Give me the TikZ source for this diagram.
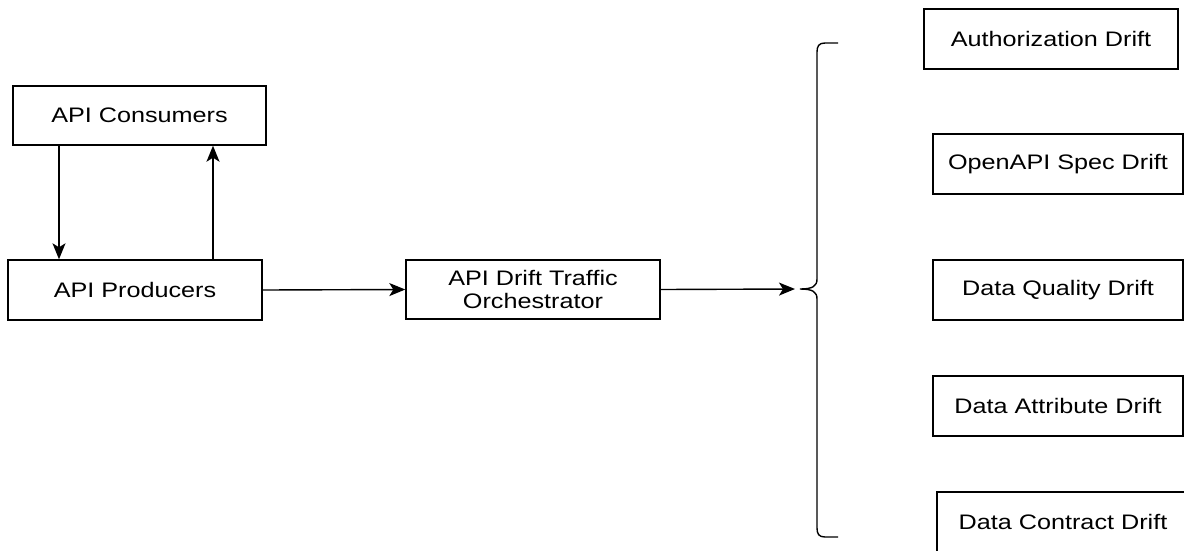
\documentclass[tikz,border=0pt]{standalone}
\usepackage{fontspec}
\usepackage{graphicx}
\setmainfont{Liberation Sans}
\usetikzlibrary{arrows.meta}
\newcommand{\wtxt}[1]{\scalebox{1.2}[1]{#1}}
\tikzset{
  box/.style={draw, line width=1.4pt, rectangle, minimum width=#1, minimum height=60pt, inner sep=0pt,
    font=\fontsize{21}{22}\selectfont, align=center},
  box/.default=254pt,
  arr/.style={line width=1.4pt, -{Stealth[length=16pt,width=13pt,inset=4pt]}},
  brace/.style={line width=1.4pt}
}
\begin{document}
\begin{tikzpicture}[x=1pt,y=-1pt]
\useasboundingbox (0,0) rectangle (1184,550);
\clip (0,0) rectangle (1184,550);
\node[box=253pt, minimum height=59pt] (cons) at (139.5,115.5) {\wtxt{API Consumers}};
\node[box] (prod) at (135,290) {\wtxt{API Producers}};
\node[box, minimum height=59pt] (orch) at (533,289.5) {\wtxt{API Drift Traffic}\\[1pt]\wtxt{Orchestrator}};
\node[box] (auth) at (1051,39) {\wtxt{Authorization Drift}};
\node[box=250pt] (spec) at (1058,164) {\wtxt{OpenAPI Spec Drift}};
\node[box=250pt] (qual) at (1058,290) {\wtxt{Data Quality Drift}};
\node[box=250pt] (attr) at (1058,406) {\wtxt{Data Attribute Drift}};
\node[box=252pt] (contr) at (1063,522) {\wtxt{Data Contract Drift}};
\coordinate (tip) at (800,289);
\draw[arr] (59,0 |- cons.south) -- (59,0 |- prod.north);
\draw[arr] (213,0 |- prod.north) -- (213,0 |- cons.south);
\draw[arr] (prod.east) -- (orch.west);
\draw[arr] (orch.east) -- ([xshift=-5pt]tip);
\draw[brace] (838,43) -- (825,43) .. controls (819,43) and (817,46) .. (817,52)
  -- (817,279) .. controls (817,286) and (813,289) .. (tip)
  .. controls (813,289) and (817,292) .. (817,299)
  -- (817,528) .. controls (817,534) and (819,537) .. (825,537) -- (838,537);
\end{tikzpicture}
\end{document}
